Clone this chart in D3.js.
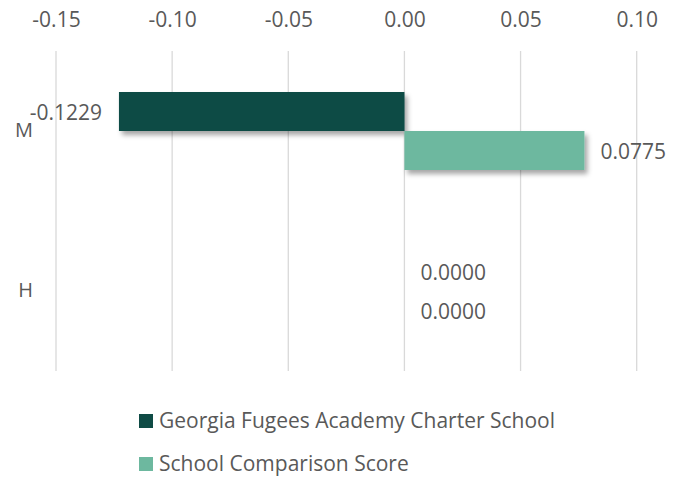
<!DOCTYPE html>
<html>
<head>
<meta charset="utf-8">
<script src="https://cdn.jsdelivr.net/npm/d3@7"></script>
<style>
  body { margin: 0; background: #fff; }
  text { font-family: "Open Sans", sans-serif; fill: #595959; }
</style>
</head>
<body>
<div id="chart"></div>
<script>
const categories = ["M", "H"];
const seriesNames = ["Georgia Fugees Academy Charter School", "School Comparison Score"];
const schoolValues = [-0.1229, 0.0000];
const comparisonValues = [0.0775, 0.0000];
const tickValues = [-0.15, -0.10, -0.05, 0.00, 0.05, 0.10];
const colors = ["#0f4b45", "#6db89f"];

const width = 683, height = 478;
const plot = { left: 56, right: 636.7, top: 51, bottom: 371 };
const fontSize = "21px";

const svg = d3.select("#chart").append("svg")
    .attr("width", width)
    .attr("height", height);

// ombre des barres
const defs = svg.append("defs");
defs.append("filter")
    .attr("id", "shadow")
    .attr("x", "-10%").attr("y", "-30%")
    .attr("width", "130%").attr("height", "180%")
    .append("feDropShadow")
    .attr("dx", 3).attr("dy", 4)
    .attr("stdDeviation", 2.5)
    .attr("flood-color", "#000")
    .attr("flood-opacity", 0.35);

const x = d3.scaleLinear().domain([-0.15, 0.10]).range([plot.left, plot.right]);
const y0 = d3.scaleBand().domain(categories).range([plot.top, plot.bottom]);
const y1 = d3.scaleBand().domain([0, 1]).range([41, y0.bandwidth() - 41]);

const hyphen = s => s.replace("\u2212", "-");
const fmtTick = d => hyphen(d3.format(".2f")(d));
const fmtVal = d => hyphen(d3.format(".4f")(d));

// grille verticale
svg.append("g")
   .selectAll("line")
   .data(tickValues)
   .enter().append("line")
   .attr("x1", d => x(d)).attr("x2", d => x(d))
   .attr("y1", plot.top).attr("y2", plot.bottom)
   .attr("stroke", "#d9d9d9")
   .attr("stroke-width", 1.3);

// axe du haut (étiquettes seulement)
const xAxis = svg.append("g")
   .attr("transform", "translate(0,20)")
   .call(d3.axisTop(x).tickValues(tickValues).tickSize(0).tickPadding(0).tickFormat(fmtTick));
xAxis.select(".domain").remove();
xAxis.selectAll("text")
   .attr("y", 0)
   .attr("dy", "0.35em")
   .style("font-size", fontSize)
   .style("font-family", "'Open Sans', sans-serif")
   .attr("fill", "#595959");

// axe des catégories
const yAxis = svg.append("g")
   .attr("transform", "translate(33,0)")
   .call(d3.axisLeft(y0).tickSize(0).tickPadding(0));
yAxis.select(".domain").remove();
yAxis.selectAll("text")
   .style("font-size", "20px")
   .style("font-family", "'Open Sans', sans-serif")
   .attr("fill", "#595959");

const rows = [];
categories.forEach((c, i) => {
    rows.push({ cat: c, s: 0, v: schoolValues[i] });
    rows.push({ cat: c, s: 1, v: comparisonValues[i] });
});

// barres
svg.append("g")
   .attr("filter", "url(#shadow)")
   .selectAll("rect")
   .data(rows.filter(d => d.v !== 0))
   .enter().append("rect")
   .attr("x", d => x(Math.min(0, d.v)))
   .attr("width", d => Math.abs(x(d.v) - x(0)))
   .attr("y", d => y0(d.cat) + y1(d.s))
   .attr("height", y1.bandwidth())
   .attr("fill", d => colors[d.s]);

// étiquettes de valeurs
svg.append("g")
   .selectAll("text")
   .data(rows)
   .enter().append("text")
   .attr("x", d => d.v < 0 ? x(d.v) - 17 : x(d.v) + 16)
   .attr("y", d => y0(d.cat) + y1(d.s) + y1.bandwidth() / 2 + 1)
   .attr("dy", "0.35em")
   .attr("text-anchor", d => d.v < 0 ? "end" : "start")
   .style("font-size", fontSize)
   .text(d => fmtVal(d.v));

// légende
const legend = svg.append("g")
   .selectAll("g")
   .data(seriesNames)
   .enter().append("g")
   .attr("transform", (d, i) => `translate(139,${421 + i * 43})`);
legend.append("rect")
   .attr("y", -7).attr("width", 14).attr("height", 14)
   .attr("fill", (d, i) => colors[i]);
legend.append("text")
   .attr("x", 20)
   .attr("dy", "0.35em")
   .style("font-size", fontSize)
   .text(d => d);
</script>
</body>
</html>
